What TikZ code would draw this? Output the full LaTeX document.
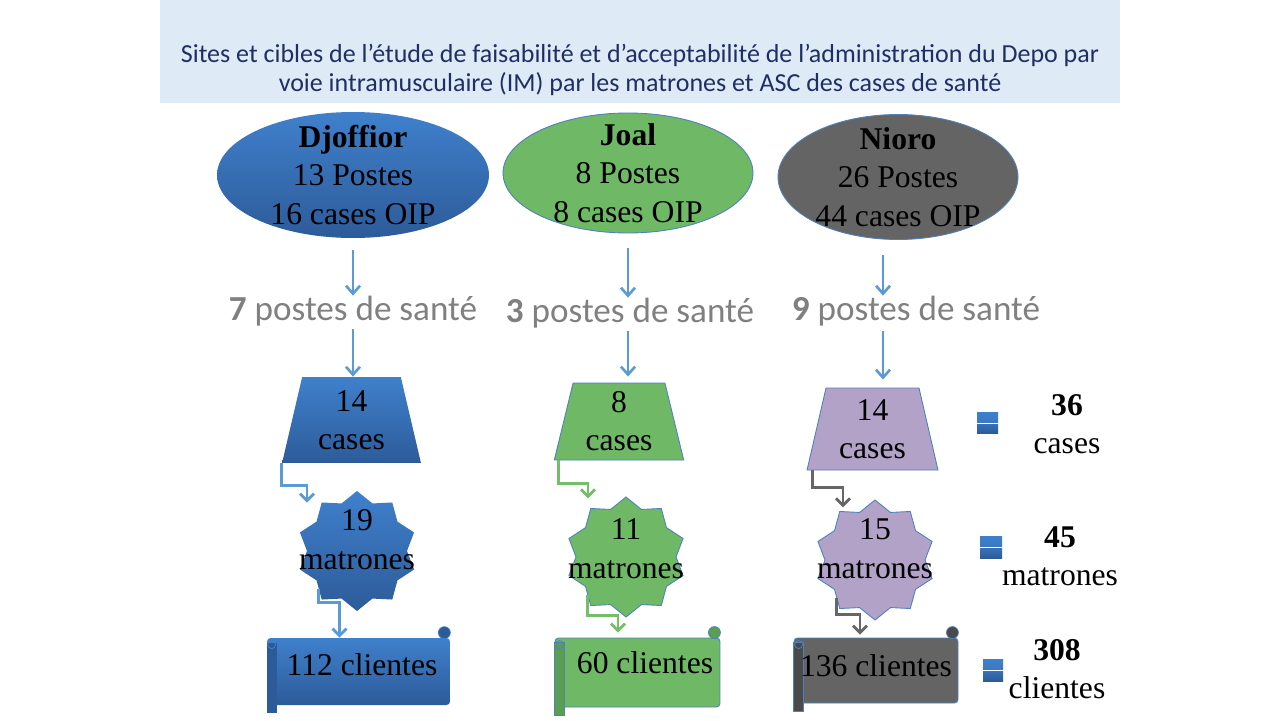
\documentclass[tikz,border=0pt]{standalone}
\usepackage{fontspec}
\setmainfont{Liberation Serif}
\newfontfamily\calfont{Carlito}
\usetikzlibrary{shapes.geometric,arrows.meta}
\definecolor{titlebg}{HTML}{DEEBF7}
\definecolor{titleink}{HTML}{1F2F63}
\definecolor{bluetop}{HTML}{3F80CC}
\definecolor{bluebot}{HTML}{2D5B99}
\definecolor{greenfill}{HTML}{6FB866}
\definecolor{greendark}{HTML}{5A9E51}
\definecolor{grayfill}{HTML}{646464}
\definecolor{graydark}{HTML}{4A4A4A}
\definecolor{lilac}{HTML}{B2A2C7}
\definecolor{edgeblue}{HTML}{4F81BD}
\definecolor{arrowblue}{HTML}{5B9BD5}
\definecolor{arrowgreen}{HTML}{75BD6A}
\definecolor{arrowgray}{HTML}{666666}
\definecolor{postesgray}{HTML}{808080}
\begin{document}
\begin{tikzpicture}[x=0.02cm,y=-0.02cm,
  serif/.style={font=\fontsize{18}{21.5}\selectfont,align=center},
  bluefill/.style={top color=bluetop,bottom color=bluebot,draw=none},
  greenbox/.style={fill=greenfill,draw=edgeblue,line width=0.5pt},
  graybox/.style={fill=grayfill,draw=edgeblue,line width=0.5pt},
  lilacbox/.style={fill=lilac,draw=edgeblue,line width=0.5pt},
  site/.style={ellipse,align=center,inner sep=-0.35cm,font=\fontsize{18}{22}\selectfont},
  postes/.style={font=\calfont\fontsize{20}{24}\selectfont,text=postesgray,inner sep=0pt},
  casebox/.style={trapezium,trapezium stretches=true,trapezium angle=77,serif,inner sep=0pt},
  starbox/.style={star,star points=10,star point ratio=1.2,minimum size=2.4cm,inner sep=0pt},
  scrollbox/.style={rectangle,rounded corners=2pt,inner sep=0pt},
  flow/.style={draw=arrowblue,line width=1.5pt,-{Straight Barb[length=4.5pt,width=8pt]}},
  elbow/.style={line width=1.6pt,-{Straight Barb[length=4pt,width=8pt]}}]
\fill[white] (0,0) rectangle (1280,720);
\fill[titlebg] (160,0) rectangle (1120,103);
\node[font=\calfont\fontsize{14.8}{16.8}\selectfont,text=titleink,align=center] (title) at (640,70)
  {Sites et cibles de l’étude de faisabilité et d’acceptabilité de l’administration du Depo par\\voie intramusculaire (IM) par les matrones et ASC des cases de santé};
\node[site,bluefill,minimum width=5.44cm,minimum height=2.52cm] (dj) at (353,175) {\textbf{Djoffior}\\13 Postes\\16 cases OIP};
\node[site,greenbox,minimum width=5.0cm,minimum height=2.4cm] (jo) at (628,173) {\textbf{Joal}\\8 Postes\\8 cases OIP};
\node[site,graybox,minimum width=4.8cm,minimum height=2.5cm] (ni) at (898,177) {\textbf{Nioro}\\26 Postes\\44 cases OIP};
\node[postes] (djp) at (353,311) {\textbf{7} postes de santé};
\node[postes] (jop) at (630,313) {\textbf{3} postes de santé};
\node[postes] (nip) at (916,311) {\textbf{9} postes de santé};
\node[casebox,bluefill,minimum width=2.78cm,minimum height=1.72cm] (djcases) at (351.5,420) {14\\cases};
\node[casebox,greenbox,minimum width=2.6cm,minimum height=1.54cm] (jocases) at (619,421.5) {8\\cases};
\node[casebox,lilacbox,minimum width=2.62cm,minimum height=1.64cm] (nicases) at (872.5,429) {14\\cases};
\node[starbox,bluefill] (djstar) at (357,551) {};
\node[starbox,greenbox] (jostar) at (626,557) {};
\node[starbox,lilacbox] (nistar) at (875,560) {};
\node[serif,font=\fontsize{18}{22}\selectfont] (djmat) at (357,540) {19\\matrones};
\node[serif,font=\fontsize{18}{22}\selectfont] (jomat) at (626,549) {11\\matrones};
\node[serif,font=\fontsize{18}{22}\selectfont] (nimat) at (875,549) {15\\matrones};
\node[scrollbox,bluefill,minimum width=3.66cm,minimum height=1.34cm] (djcli) at (358.5,671.5) {};
\node[scrollbox,greenbox,minimum width=3.3cm,minimum height=1.38cm] (jocli) at (637.5,672.5) {};
\node[scrollbox,graybox,minimum width=3.28cm,minimum height=1.3cm] (nicli) at (876,670.5) {};
\fill[bluebot] ([yshift=-0.1cm]djcli.north west) rectangle ([xshift=0.2cm,yshift=-0.16cm]djcli.south west);
\filldraw[fill=bluebot,draw=bluetop] ([xshift=-0.12cm,yshift=0.1cm]djcli.north east) circle (0.12cm);
\draw[bluetop] ([xshift=0.1cm,yshift=-0.14cm]djcli.north west) circle (0.08cm);
\filldraw[fill=greendark,draw=edgeblue] ([yshift=-0.1cm]jocli.north west) rectangle ([xshift=0.2cm,yshift=-0.16cm]jocli.south west);
\filldraw[fill=greendark,draw=edgeblue] ([xshift=-0.12cm,yshift=0.1cm]jocli.north east) circle (0.12cm);
\draw[edgeblue] ([xshift=0.1cm,yshift=-0.14cm]jocli.north west) circle (0.08cm);
\filldraw[fill=graydark,draw=edgeblue] ([yshift=-0.1cm]nicli.north west) rectangle ([xshift=0.2cm,yshift=-0.16cm]nicli.south west);
\filldraw[fill=graydark,draw=edgeblue] ([xshift=-0.12cm,yshift=0.1cm]nicli.north east) circle (0.12cm);
\draw[edgeblue] ([xshift=0.1cm,yshift=-0.14cm]nicli.north west) circle (0.08cm);
\node[serif] (djclitxt) at (362,665) {112 clientes};
\node[serif] (joclitxt) at (645,663) {60 clientes};
\node[serif] (niclitxt) at (876,666) {136 clientes};
\draw[flow] ([yshift=-0.24cm]dj.south) -- (dj.south |- djp.north);
\draw[flow] ([yshift=-0.06cm]djp.south) -- (djp.south |- djcases.north);
\draw[flow] ([yshift=-0.3cm]jo.south) -- (jo.south |- jop.north);
\draw[flow] ([yshift=-0.06cm]jo.south |- jop.south) -- ([yshift=0.12cm]jo.south |- jocases.north);
\draw[flow] ([xshift=-0.3cm,yshift=-0.3cm]ni.south) -- ([xshift=-0.3cm]ni.south |- nip.north);
\draw[flow] ([xshift=-0.3cm,yshift=-0.1cm]ni.south |- nip.south) -- ([xshift=-0.3cm,yshift=0.16cm]ni.south |- nicases.north);
\draw[elbow,draw=arrowblue] (djcases.bottom left corner) -- ++(0,22) -| ([xshift=-1cm,yshift=-0.24cm]djstar.north);
\draw[elbow,draw=arrowblue] (djstar.south west) -- ++(0,13) -| ([xshift=-0.38cm]djcli.north);
\draw[elbow,draw=arrowgreen] ([xshift=0.1cm]jocases.bottom left corner) -- ++(0,23) -| ([xshift=-0.76cm,yshift=-0.04cm]jostar.north);
\draw[elbow,draw=arrowgreen] (jostar.south west) -- ++(0,20) -| ([xshift=-0.39cm,yshift=0.1cm]jocli.north);
\draw[elbow,draw=arrowgray] ([xshift=0.12cm]nicases.bottom left corner) -- ++(0,17) -| ([xshift=-0.64cm,yshift=-0.16cm]nistar.north);
\draw[elbow,draw=arrowgray] (nistar.south west) -- ++(0,16) -| ([xshift=-0.32cm,yshift=0.06cm]nicli.north);
\shade[top color=bluetop,bottom color=bluetop!80!bluebot] (977,412) rectangle (998,422);
\shade[top color=bluetop!60!bluebot,bottom color=bluebot] (977,424) rectangle (998,433);
\shade[top color=bluetop,bottom color=bluetop!80!bluebot] (980,536) rectangle (1002,546);
\shade[top color=bluetop!60!bluebot,bottom color=bluebot] (980,548) rectangle (1002,558);
\shade[top color=bluetop,bottom color=bluetop!80!bluebot] (983,659) rectangle (1003,669);
\shade[top color=bluetop!60!bluebot,bottom color=bluebot] (983,671) rectangle (1003,681);
\node[serif] (totcases) at (1067,424) {\textbf{36}\\cases};
\node[serif] (totmat) at (1060,556) {\textbf{45}\\matrones};
\node[serif] (totcli) at (1057,669) {\textbf{308}\\clientes};
\end{tikzpicture}
\end{document}
